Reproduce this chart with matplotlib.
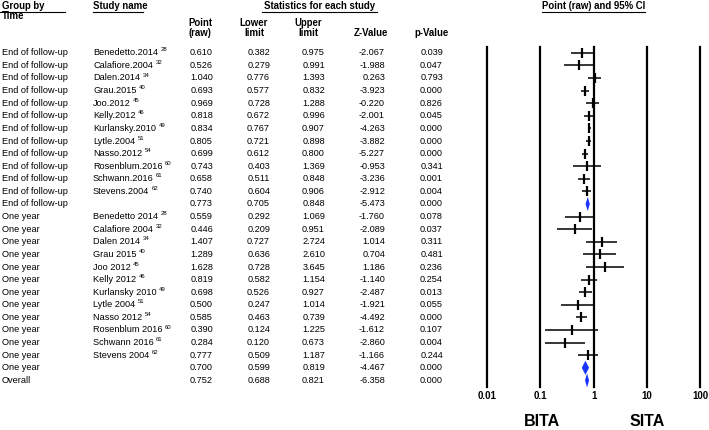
import numpy as np
import matplotlib
matplotlib.use("Agg")
import matplotlib.pyplot as plt
import matplotlib.transforms as mtransforms
from matplotlib.ticker import NullLocator

plt.rcParams['font.family'] = ['Liberation Sans', 'DejaVu Sans']

# ---- data ----
groups = ["End of follow-up"] * 13 + ["One year"] * 13 + ["Overall"]
names = ["Benedetto.2014", "Calafiore.2004", "Dalen.2014", "Grau.2015", "Joo.2012",
         "Kelly.2012", "Kurlansky.2010", "Lytle.2004", "Nasso.2012", "Rosenblum.2016",
         "Schwann.2016", "Stevens.2004", "",
         "Benedetto 2014", "Calafiore 2004", "Dalen 2014", "Grau 2015", "Joo 2012",
         "Kelly 2012", "Kurlansky 2010", "Lytle 2004", "Nasso 2012", "Rosenblum 2016",
         "Schwann 2016", "Stevens 2004", "", ""]
refs = ["28", "32", "34", "40", "45", "46", "49", "51", "54", "60", "61", "62", ""] * 2 + [""]
point = [0.610, 0.526, 1.040, 0.693, 0.969, 0.818, 0.834, 0.805, 0.699, 0.743, 0.658, 0.740, 0.773,
         0.559, 0.446, 1.407, 1.289, 1.628, 0.819, 0.698, 0.500, 0.585, 0.390, 0.284, 0.777, 0.700,
         0.752]
lower = [0.382, 0.279, 0.776, 0.577, 0.728, 0.672, 0.767, 0.721, 0.612, 0.403, 0.511, 0.604, 0.705,
         0.292, 0.209, 0.727, 0.636, 0.728, 0.582, 0.526, 0.247, 0.463, 0.124, 0.120, 0.509, 0.599,
         0.688]
upper = [0.975, 0.991, 1.393, 0.832, 1.288, 0.996, 0.907, 0.898, 0.800, 1.369, 0.848, 0.906, 0.848,
         1.069, 0.951, 2.724, 2.610, 3.645, 1.154, 0.927, 1.014, 0.739, 1.225, 0.673, 1.187, 0.819,
         0.821]
zval = [-2.067, -1.988, 0.263, -3.923, -0.220, -2.001, -4.263, -3.882, -5.227, -0.953, -3.236, -2.912, -5.473,
        -1.760, -2.089, 1.014, 0.704, 1.186, -1.140, -2.487, -1.921, -4.492, -1.612, -2.860, -1.166, -4.467,
        -6.358]
pval = [0.039, 0.047, 0.793, 0.000, 0.826, 0.045, 0.000, 0.000, 0.000, 0.341, 0.001, 0.004, 0.000,
        0.078, 0.037, 0.311, 0.481, 0.236, 0.254, 0.013, 0.055, 0.000, 0.107, 0.004, 0.244, 0.000,
        0.000]
summary_rows = [12, 25, 26]
ticks = [0.01, 0.1, 1, 10, 100]
tick_labels = ["0.01", "0.1", "1", "10", "100"]

W, H = 709, 430
fig = plt.figure(figsize=(W / 100, H / 100), dpi=100)
n = len(point)

def fx(px):
    return px / W

def fy(py):
    return 1 - py / H

# forest plot axes
ax = fig.add_axes([fx(487.3), fy(386.7), (700 - 487.3) / W, (386.7 - 46.5) / H])
ax.set_xscale('log')
ax.set_xlim(0.01, 100)
ax.set_ylim(n - 0.5, -0.5)
for s in ax.spines.values():
    s.set_visible(False)
ax.set_yticks([])
ax.xaxis.set_minor_locator(NullLocator())
ax.set_xticks(ticks, tick_labels)
ax.tick_params(axis='x', length=0, pad=3, labelsize=7)
for lab in ax.get_xticklabels():
    lab.set_fontweight('bold')
for t in ticks:
    ax.axvline(t, color='black', lw=1.6, clip_on=False)

blue = '#1a33ff'
for i in range(n):
    if i in summary_rows:
        ax.fill([lower[i], point[i], upper[i], point[i]], [i, i - 0.56, i, i + 0.56],
                color=blue, lw=0)
    else:
        ax.plot([lower[i], upper[i]], [i, i], color='black', lw=1.1, solid_capstyle='butt')
        ax.plot(point[i], i, marker='|', ms=7.5, mew=1.6, color='black')

# table text
tr = mtransforms.blended_transform_factory(fig.transFigure, ax.transData)
fs = 6.6
for i in range(n):
    fig.text(fx(2), i, groups[i], transform=tr, fontsize=fs, va='center', ha='left')
    if names[i]:
        t = fig.text(fx(93), i, names[i], transform=tr, fontsize=fs, va='center', ha='left')
        if refs[i]:
            ax.annotate(refs[i], xy=(1, 0.55), xycoords=t, xytext=(1.8, 0),
                        textcoords='offset points', fontsize=4.3, va='bottom', ha='left')
    fig.text(fx(213), i, f"{point[i]:.3f}", transform=tr, fontsize=fs, va='center', ha='right')
    fig.text(fx(270), i, f"{lower[i]:.3f}", transform=tr, fontsize=fs, va='center', ha='right')
    fig.text(fx(325), i, f"{upper[i]:.3f}", transform=tr, fontsize=fs, va='center', ha='right')
    fig.text(fx(385), i, f"{zval[i]:.3f}", transform=tr, fontsize=fs, va='center', ha='right')
    fig.text(fx(443), i, f"{pval[i]:.3f}", transform=tr, fontsize=fs, va='center', ha='right')

# headers
hfs = 6.9
hd = dict(fontsize=hfs, fontweight='bold', va='center')
fig.text(fx(2), fy(6), "Group by", ha='left', **hd)
fig.text(fx(2), fy(16), "Time", ha='left', **hd)
fig.text(fx(93), fy(6), "Study name", ha='left', **hd)
fig.text(fx(319.5), fy(6), "Statistics for each study", ha='center', **hd)
fig.text(fx(593.3), fy(6), "Point (raw) and 95% CI", ha='center', **hd)
fig.text(fx(200), fy(23), "Point", ha='center', **hd)
fig.text(fx(200), fy(33), "(raw)", ha='center', **hd)
fig.text(fx(254), fy(23), "Lower", ha='center', **hd)
fig.text(fx(254), fy(33), "limit", ha='center', **hd)
fig.text(fx(308), fy(23), "Upper", ha='center', **hd)
fig.text(fx(308), fy(33), "limit", ha='center', **hd)
fig.text(fx(371), fy(33), "Z-Value", ha='center', **hd)
fig.text(fx(432), fy(33), "p-Value", ha='center', **hd)

for x0, x1 in [(0, 65), (93, 143), (262, 377), (542, 645)]:
    fig.add_artist(plt.Line2D([fx(x0), fx(x1)], [fy(11.5), fy(11.5)], color='black', lw=0.8))

fig.text(fx(541.7), fy(422), "BITA", ha='center', va='center', fontsize=11.5, fontweight='bold')
fig.text(fx(646.7), fy(422), "SITA", ha='center', va='center', fontsize=11.5, fontweight='bold')

fig.savefig("out.png", dpi=100, facecolor='white')
